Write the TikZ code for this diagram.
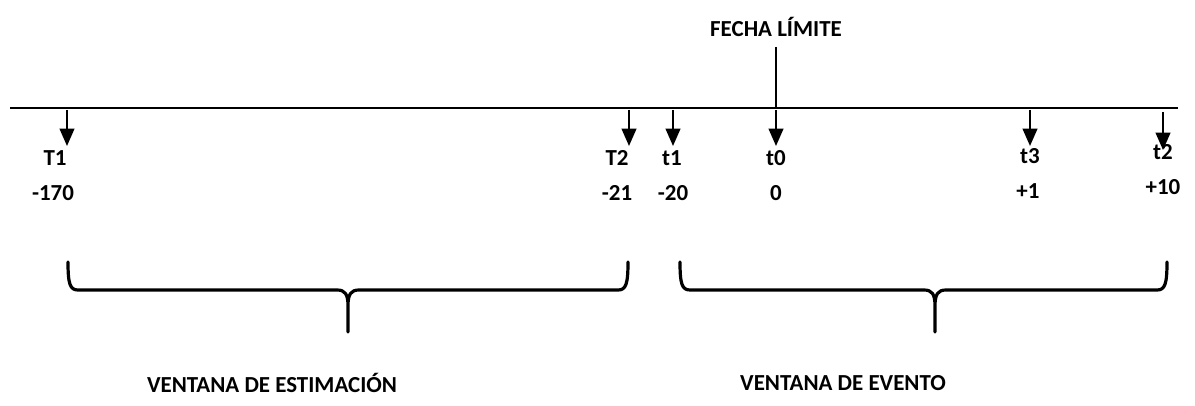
\documentclass[tikz,border=0pt]{standalone}
\usepackage{fontspec}
\setmainfont{Carlito}
\usetikzlibrary{arrows.meta}
\begin{document}
\begin{tikzpicture}[x=0.75pt,y=-0.75pt,
  lbl/.style={font=\fontsize{17.2}{18}\selectfont\bfseries, inner sep=0pt},
  tick/.style={line width=1.5pt,-{Triangle[length=13pt,width=11pt]}},
  axis/.style={line width=2pt},
  brace/.style={line width=2.4pt, line join=round, line cap=round}]
\useasboundingbox (0,0) rectangle (1195,406);
% timeline
\coordinate (L) at (10,108);
\coordinate (R) at (1178,108);
\draw[axis] (L) -- (R);
% deadline marker
\node[lbl] (fecha) at (776,27) {FECHA LÍMITE};
\coordinate (flt) at (776,47);
\coordinate (flb) at (776,108);
\draw[line width=1.5pt] (flt) -- (flb);
% arrows
\foreach \n/\x/\ys/\ye in {a/67/110/146, b/629/110/146, c/673/110/146, d/776/110/146, e/1030/110/146, f/1163/112/150}{
  \coordinate (\n s) at (\x,\ys);
  \coordinate (\n e) at (\x,\ye);
  \draw[tick] (\n s) -- (\n e);
}
% labels
\node[lbl] (T1) at (55,158) {T1};
\node[lbl] (m170) at (53,193) {-170};
\node[lbl] (T2) at (617,158) {T2};
\node[lbl] (m21) at (617,193) {-21};
\node[lbl] (t1) at (672,158) {t1};
\node[lbl] (m20) at (673,193) {-20};
\node[lbl] (t0) at (776,158) {t0};
\node[lbl] (z0) at (776,193) {0};
\node[lbl] (t3) at (1030,156) {t3};
\node[lbl] (p1) at (1028,191) {+1};
\node[lbl] (t2) at (1163,152) {t2};
\node[lbl] (p10) at (1163,187) {+10};
% braces
\draw[brace] (68,262) .. controls (68,284) and (70,290) .. (78,290) -- (337,290)
  .. controls (345,290) and (348,294) .. (348,306) -- (348,332)
  (348,306) .. controls (348,294) and (351,290) .. (359,290) -- (618,290)
  .. controls (626,290) and (628,284) .. (628,262);
\draw[brace] (680,262) .. controls (680,284) and (682,290) .. (690,290) -- (924,290)
  .. controls (932,290) and (935,294) .. (935,306) -- (935,332)
  (935,306) .. controls (935,294) and (938,290) .. (946,290) -- (1157,290)
  .. controls (1165,290) and (1167,284) .. (1167,262);
% window labels
\node[lbl] (est) at (272,383) {VENTANA DE ESTIMACIÓN};
\node[lbl] (evt) at (843,383) {VENTANA DE EVENTO};
\end{tikzpicture}
\end{document}
